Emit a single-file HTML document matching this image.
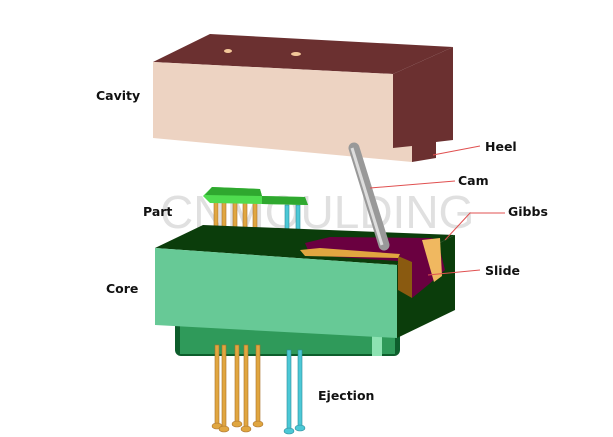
<!DOCTYPE html>
<html><head><style>
html,body{margin:0;padding:0;background:#fff;width:613px;height:437px;overflow:hidden}
text{font-family:"DejaVu Sans","Liberation Sans",sans-serif;font-weight:bold;font-size:12.5px;fill:#111}
</style></head><body>
<svg width="613" height="437" viewBox="0 0 613 437" xmlns="http://www.w3.org/2000/svg">
<!-- Cavity -->
<polygon points="153,62 210,34 453,47 393,74" fill="#6b3030"/>
<polygon points="393,74 453,47 453,140 436,142 436,158 412,162 412,148 393,148" fill="#6b3030"/>
<polygon points="153,62 393,74 393,148 412,146 412,162 153,138" fill="#edd3c2"/>
<ellipse cx="228" cy="51" rx="4" ry="2" fill="#f3c89a"/>
<ellipse cx="296" cy="54" rx="5" ry="2" fill="#f3c89a"/>
<!-- watermark -->
<text x="160" y="228" style="font-family:'Liberation Sans',sans-serif;font-weight:normal;font-size:46px;fill:#d6d6d6;opacity:0.75">CNMOULDING</text>
<!-- upper pins -->
<g fill="#e0a640" stroke="#a8702a" stroke-width="0.6">
<rect x="214" y="200" width="4" height="45"/><rect x="222" y="200" width="4" height="45"/>
<rect x="233" y="200" width="4" height="45"/><rect x="243" y="200" width="4" height="45"/>
<rect x="253" y="200" width="4" height="45"/>
</g>
<g fill="#4cc8d6" stroke="#2a8a99" stroke-width="0.6">
<rect x="285" y="205" width="4" height="45"/><rect x="296" y="205" width="4" height="45"/>
</g>
<!-- part -->
<polygon points="203,196 212,187 260,189 262,196 305,197 308,205 262,204 210,203" fill="#4fdc4f"/>
<polygon points="212,187 260,189 262,196 205,195" fill="#2fa82f"/>
<polygon points="262,196 305,197 308,205 262,204" fill="#2fa82f"/>
<!-- core base -->
<rect x="175" y="320" width="225" height="36" rx="6" fill="#0d5e2c"/>
<rect x="180" y="322" width="215" height="32" fill="#2f9a5a"/>
<rect x="372" y="336" width="10" height="20" fill="#8de2b2"/>
<!-- core top and side -->
<polygon points="155,248 203,225 455,235 397,265" fill="#0b3d0b"/>
<polygon points="397,265 455,235 455,310 397,338" fill="#0b3d0b"/>
<polygon points="155,248 397,265 397,338 155,325" fill="#67c996"/>
<!-- slide & gibbs -->
<polygon points="305,243 330,237 432,238 440,250 445,270 428,285 412,298 412,262 310,255" fill="#6a0040"/>
<polygon points="398,256 412,262 412,298 398,290" fill="#8a5a10"/>
<polygon points="422,240 440,238 442,276 434,282" fill="#f0b860"/>
<polygon points="300,250 320,248 400,254 398,258 305,256" fill="#e0a640"/>
<!-- cam -->
<line x1="354" y1="148" x2="384" y2="245" stroke="#999" stroke-width="11" stroke-linecap="round"/>
<line x1="352" y1="148" x2="382" y2="245" stroke="#ddd" stroke-width="3"/>
<!-- lower pins -->
<g fill="#e0a640" stroke="#a8702a" stroke-width="0.6">
<rect x="215" y="345" width="4" height="80"/><rect x="222" y="345" width="4" height="82"/>
<rect x="235" y="345" width="4" height="78"/><rect x="244" y="345" width="4" height="82"/>
<rect x="256" y="345" width="4" height="78"/>
<ellipse cx="217" cy="426" rx="5" ry="3"/><ellipse cx="224" cy="429" rx="5" ry="3"/>
<ellipse cx="237" cy="424" rx="5" ry="3"/><ellipse cx="246" cy="429" rx="5" ry="3"/>
<ellipse cx="258" cy="424" rx="5" ry="3"/>
</g>
<g fill="#4cc8d6" stroke="#2a8a99" stroke-width="0.6">
<rect x="287" y="350" width="4" height="80"/><rect x="298" y="350" width="4" height="78"/>
<ellipse cx="289" cy="431" rx="5" ry="3"/><ellipse cx="300" cy="428" rx="5" ry="3"/>
</g>
<!-- leaders -->
<g stroke="#e05050" stroke-width="1" fill="none">
<line x1="433" y1="155" x2="480" y2="146"/>
<line x1="370" y1="188" x2="455" y2="181"/>
<polyline points="445,240 470,213 505,213"/>
<line x1="428" y1="275" x2="480" y2="270"/>
</g>
<text x="96" y="100">Cavity</text>
<text x="485" y="151">Heel</text>
<text x="458" y="185">Cam</text>
<text x="143" y="216">Part</text>
<text x="508" y="216">Gibbs</text>
<text x="485" y="275">Slide</text>
<text x="106" y="293">Core</text>
<text x="318" y="400">Ejection</text>
</svg>
</body></html>
